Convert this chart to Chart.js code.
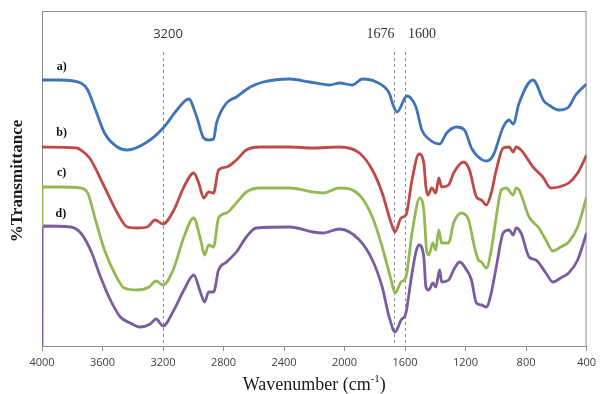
<!DOCTYPE html>
<html>
<head>
<meta charset="utf-8">
<title>FTIR spectra</title>
<script src="https://cdn.jsdelivr.net/npm/chart.js@4/dist/chart.umd.min.js"></script>
<style>
  html, body { margin: 0; padding: 0; background: #ffffff; }
  #wrap { width: 601px; height: 394px; position: relative; }
</style>
</head>
<body>
<div id="wrap"><canvas id="ftir"></canvas></div>
<script>
// Wavenumbers (cm-1) and relative transmittance for the four spectra
const waveA = [4000, 3882, 3744, 3698, 3646, 3587, 3502, 3436, 3305, 3193, 3108, 3030, 2977, 2931, 2898, 2866, 2846, 2780, 2715, 2623, 2538, 2361, 2230, 2098, 2033, 1948, 1882, 1790, 1705, 1679, 1653, 1587, 1528, 1489, 1443, 1371, 1325, 1259, 1207, 1161, 1115, 1062, 1016, 951, 912, 885, 846, 754, 682, 649, 584, 518, 472, 400];
const transA = [79.8, 79.8, 78.9, 76.8, 70.8, 63.9, 59.7, 58.8, 61.2, 65.7, 70.8, 74.1, 68.7, 62.4, 61.8, 62.1, 66.9, 72.9, 74.7, 77.7, 79.2, 80.1, 79.2, 78.3, 78.9, 78.3, 80.1, 79.2, 75.9, 72.3, 70.2, 75.0, 71.7, 64.8, 62.1, 60.6, 63.9, 65.7, 64.8, 59.4, 56.7, 55.5, 57.3, 65.7, 67.8, 66.6, 72.9, 79.8, 73.5, 72.3, 70.8, 71.7, 75.3, 78.6];

const waveB = [4000, 3770, 3744, 3685, 3587, 3502, 3436, 3371, 3305, 3252, 3200, 3128, 3062, 2997, 2964, 2931, 2898, 2866, 2833, 2780, 2715, 2649, 2557, 2361, 2210, 2033, 1902, 1816, 1751, 1692, 1666, 1626, 1594, 1554, 1508, 1476, 1462, 1449, 1423, 1397, 1377, 1358, 1312, 1279, 1213, 1174, 1128, 1095, 1062, 1030, 997, 951, 912, 885, 866, 833, 754, 689, 636, 584, 518, 459, 400];
const transB = [59.7, 59.4, 58.8, 56.4, 47.7, 39.9, 35.7, 35.4, 35.7, 37.8, 36.6, 40.8, 47.7, 51.9, 48.9, 44.4, 46.2, 45.9, 52.8, 53.7, 55.8, 58.8, 59.7, 59.7, 59.4, 59.7, 57.9, 52.8, 45.9, 36.9, 34.2, 38.4, 39.3, 49.8, 57.6, 54.9, 47.7, 45.3, 47.4, 45.9, 50.4, 47.7, 48.3, 51.9, 55.2, 52.8, 44.7, 43.8, 42.3, 45.9, 52.8, 59.4, 59.7, 58.2, 59.7, 58.8, 53.7, 50.7, 47.4, 47.7, 48.9, 51.9, 57.3];

const waveC = [4000, 3999, 3882, 3744, 3698, 3646, 3587, 3521, 3456, 3371, 3292, 3246, 3200, 3128, 3062, 2997, 2951, 2925, 2898, 2866, 2833, 2780, 2715, 2649, 2557, 2361, 2210, 2144, 2033, 1902, 1816, 1751, 1692, 1666, 1626, 1594, 1554, 1502, 1476, 1456, 1443, 1416, 1397, 1377, 1358, 1312, 1279, 1226, 1180, 1141, 1115, 1095, 1062, 1030, 997, 964, 931, 885, 866, 846, 780, 715, 669, 623, 571, 518, 459, 400];
const transC = [35.7, 47.7, 47.7, 47.4, 45.9, 37.8, 28.8, 21.9, 17.4, 16.8, 17.7, 19.5, 18.3, 23.4, 32.7, 38.4, 31.8, 27.3, 30.3, 29.7, 38.4, 39.9, 42.9, 46.2, 47.4, 47.4, 46.2, 45.9, 47.4, 45.3, 38.7, 29.7, 19.8, 15.9, 19.2, 20.7, 33.9, 44.4, 40.8, 28.2, 27.3, 30.9, 28.8, 34.8, 30.9, 30.9, 36.9, 39.9, 37.8, 29.7, 25.8, 25.2, 23.4, 28.8, 38.7, 46.8, 47.4, 45.3, 47.4, 46.8, 38.7, 35.4, 31.8, 28.5, 29.7, 31.2, 35.7, 44.7];

const waveD = [4000, 3999, 3810, 3744, 3679, 3613, 3548, 3482, 3416, 3351, 3285, 3246, 3200, 3128, 3062, 2997, 2951, 2925, 2898, 2866, 2833, 2780, 2715, 2649, 2584, 2361, 2210, 2144, 2033, 1902, 1816, 1751, 1705, 1666, 1626, 1594, 1561, 1528, 1508, 1476, 1462, 1443, 1416, 1397, 1371, 1358, 1312, 1279, 1239, 1193, 1161, 1128, 1095, 1062, 1030, 997, 951, 912, 885, 866, 833, 780, 735, 669, 623, 571, 518, 459, 400];
const transD = [0, 36.0, 35.7, 33.9, 28.8, 20.7, 13.8, 8.7, 6.9, 5.7, 6.6, 8.1, 6.0, 10.8, 16.8, 21.3, 15.9, 13.2, 16.2, 16.2, 22.8, 25.2, 28.2, 32.7, 35.4, 35.7, 34.2, 33.9, 35.1, 31.8, 25.8, 17.7, 8.7, 4.2, 7.8, 9.9, 19.8, 28.2, 30.3, 26.7, 17.7, 16.8, 18.9, 17.7, 22.8, 19.2, 19.8, 22.8, 25.2, 22.8, 19.8, 12.9, 12.3, 11.7, 15.9, 23.7, 33.9, 34.8, 33.3, 35.4, 33.9, 26.7, 25.8, 21.9, 19.2, 20.4, 21.9, 25.8, 33.9];

// Series labels and where they sit (wavenumber, transmittance)
const seriesLabels = ['a)', 'b)', 'c)', 'd)'];
const labelWave = [3870, 3870, 3870, 3875];
const labelTrans = [83.7, 63.9, 51.9, 39.6];

// Marked band positions
const markWave = [3200, 1676, 1600];
const markText = ['3200', '1676', '1600'];

const xTicks = [4000, 3600, 3200, 2800, 2400, 2000, 1600, 1200, 800, 400];

const colors = ['#3F74B8', '#BE4B48', '#93B953', '#7A5CA0'];

function pts(w, t) { return w.map((x, i) => ({ x: x, y: t[i] })); }

const datasets = [
  pts(waveA, transA), pts(waveB, transB), pts(waveC, transC), pts(waveD, transD)
].map((d, i) => ({
  label: seriesLabels[i],
  data: d,
  borderColor: colors[i],
  borderWidth: 2.8,
  pointRadius: 0,
  fill: false,
  cubicInterpolationMode: 'monotone'
}));

const decor = {
  id: 'decor',
  beforeDatasetsDraw(chart) {
    const { ctx, chartArea: a, scales: { x } } = chart;
    ctx.save();
    // plot frame
    ctx.strokeStyle = '#8f8f8f';
    ctx.lineWidth = 1;
    ctx.strokeRect(a.left + 0.5, a.top + 0.5, a.right - a.left - 1, a.bottom - a.top);
    // dashed band markers
    ctx.strokeStyle = '#8a8a8a';
    ctx.setLineDash([3, 3]);
    markWave.forEach(w => {
      const px = Math.round(x.getPixelForValue(w)) + 0.5;
      ctx.beginPath();
      ctx.moveTo(px, a.top + 41);
      ctx.lineTo(px, a.bottom);
      ctx.stroke();
    });
    ctx.restore();
  },
  afterDraw(chart) {
    const { ctx, chartArea: a, scales: { x, y } } = chart;
    ctx.save();
    ctx.fillStyle = '#333333';
    ctx.textBaseline = 'middle';
    // band labels
    const ly = a.top + 23;
    ctx.font = '13px "Open Sans", "Liberation Sans", sans-serif';
    ctx.textAlign = 'center';
    ctx.fillText(markText[0], x.getPixelForValue(markWave[0]) + 5, ly);
    ctx.font = '14px "Liberation Serif", serif';
    ctx.textAlign = 'right';
    ctx.fillText(markText[1], x.getPixelForValue(markWave[1]) + 1, ly);
    ctx.textAlign = 'left';
    ctx.fillText(markText[2], x.getPixelForValue(markWave[2]) + 3, ly);

    // series labels
    ctx.fillStyle = '#111111';
    ctx.font = 'bold 12px "Liberation Serif", serif';
    ctx.textAlign = 'center';
    seriesLabels.forEach((s, i) => {
      ctx.fillText(s, x.getPixelForValue(labelWave[i]), y.getPixelForValue(labelTrans[i]));
    });

    // x axis title with superscript
    ctx.fillStyle = '#1a1a1a';
    const cx = (a.left + a.right) / 2;
    const ty = 385;
    const main = 'Wavenumber (cm';
    const sup = '-1';
    const tail = ')';
    ctx.font = '18px "Liberation Serif", serif';
    const wMain = ctx.measureText(main).width;
    const wTail = ctx.measureText(tail).width;
    ctx.font = '11px "Liberation Serif", serif';
    const wSup = ctx.measureText(sup).width;
    let sx = cx - (wMain + wSup + wTail) / 2;
    ctx.textAlign = 'left';
    ctx.font = '18px "Liberation Serif", serif';
    ctx.fillText(main, sx, ty);
    sx += wMain;
    ctx.font = '11px "Liberation Serif", serif';
    ctx.fillText(sup, sx, ty - 6);
    sx += wSup;
    ctx.font = '18px "Liberation Serif", serif';
    ctx.fillText(tail, sx, ty);

    // y axis title
    ctx.translate(18, 181);
    ctx.rotate(-Math.PI / 2);
    ctx.textAlign = 'center';
    ctx.font = 'bold 17px "Liberation Serif", serif';
    ctx.fillText('%Transmittance', 0, 0);
    ctx.restore();
  }
};

new Chart(document.getElementById('ftir'), {
  type: 'line',
  data: { datasets: datasets },
  options: {
    responsive: true,
    maintainAspectRatio: false,
    animation: false,
    devicePixelRatio: 1,
    layout: { padding: { left: 42, top: 11, right: 10, bottom: 0 } },
    plugins: { legend: { display: false }, tooltip: { enabled: false } },
    scales: {
      x: {
        type: 'linear',
        reverse: true,
        min: 400,
        max: 4000,
        afterBuildTicks: s => { s.ticks = xTicks.map(v => ({ value: v })); },
        afterFit: s => { s.height = 48; },
        ticks: {
          color: '#404040',
          font: { family: '"Open Sans", "Liberation Sans", sans-serif', size: 11 },
          padding: 5,
          maxRotation: 0,
          autoSkip: false,
          callback: v => String(v)
        },
        grid: { drawOnChartArea: false, drawTicks: true, tickLength: 5, color: '#8f8f8f' },
        border: { color: '#8f8f8f' }
      },
      y: {
        display: false,
        min: 0,
        max: 100.5
      }
    }
  },
  plugins: [decor]
});
</script>
</body>
</html>
